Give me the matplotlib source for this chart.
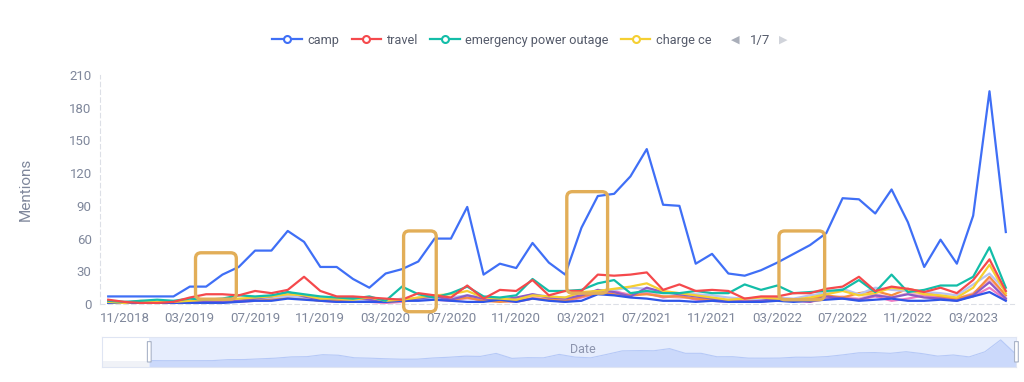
import numpy as np
import pandas as pd
import matplotlib
matplotlib.use("Agg")
import matplotlib.pyplot as plt
from matplotlib.lines import Line2D
from matplotlib.patches import FancyBboxPatch, Rectangle

plt.rcParams["font.family"] = ["Roboto", "DejaVu Sans"]

# monthly mentions, 10/2018 .. 05/2023
months = pd.date_range("2018-10-01", periods=56, freq="MS")

camp = [7, 7, 7, 7, 7, 16, 16, 27, 34, 49, 49, 67, 57, 34, 34, 23, 15, 28, 32, 39,
        60, 60, 89, 27, 37, 33, 56, 38, 27, 70, 99, 101, 117, 142, 91, 90, 37, 46, 28, 26,
        31, 38, 46, 54, 65, 97, 96, 83, 105, 75, 34, 59, 37, 81, 195, 66]
travel = [4, 2, 1, 1, 2, 6, 9, 9, 8, 12, 10, 13, 25, 12, 7, 7, 6, 5, 4, 10,
          8, 6, 17, 5, 13, 12, 22, 8, 12, 12, 27, 26, 27, 29, 13, 18, 12, 13, 12, 5,
          7, 7, 10, 10, 14, 16, 25, 12, 16, 14, 11, 15, 10, 22, 41, 12]
emergency = [3, 2, 3, 4, 3, 5, 4, 5, 8, 7, 8, 11, 9, 7, 6, 5, 7, 3, 16, 9,
             6, 10, 16, 7, 6, 8, 23, 12, 12, 13, 19, 22, 10, 12, 10, 10, 12, 10, 10, 18,
             13, 17, 10, 11, 12, 13, 22, 11, 27, 11, 13, 17, 17, 25, 52, 15]
charge = [2, 1, 3, 2, 2, 3, 4, 4, 5, 6, 7, 9, 8, 5, 5, 4, 6, 3, 4, 6,
          8, 9, 12, 6, 5, 4, 8, 7, 6, 11, 12, 14, 16, 19, 12, 10, 8, 6, 4, 5,
          6, 5, 4, 6, 9, 12, 8, 10, 15, 13, 9, 8, 6, 15, 36, 10]
purple = [1, 1, 1, 1, 1, 2, 2, 3, 3, 5, 7, 11, 7, 4, 5, 6, 4, 3, 4, 5,
          7, 4, 8, 5, 4, 6, 9, 6, 5, 8, 13, 11, 7, 15, 11, 9, 7, 5, 3, 2,
          3, 5, 4, 2, 7, 5, 4, 8, 6, 9, 6, 5, 3, 8, 20, 5]
pink = [1, 1, 1, 1, 2, 2, 1, 2, 2, 3, 4, 6, 5, 3, 2, 3, 2, 1, 2, 5,
        4, 3, 6, 3, 3, 2, 5, 4, 2, 6, 10, 12, 8, 10, 6, 8, 4, 3, 2, 3,
        2, 4, 3, 2, 5, 6, 4, 7, 3, 5, 8, 6, 4, 7, 15, 4]
lavender = [2, 2, 2, 1, 2, 3, 3, 3, 4, 5, 6, 7, 6, 5, 5, 4, 3, 3, 5, 4,
            5, 6, 8, 6, 5, 5, 9, 7, 6, 10, 12, 13, 15, 14, 11, 10, 9, 8, 6, 5,
            4, 6, 5, 8, 10, 14, 9, 15, 13, 12, 11, 10, 8, 18, 28, 12]
orange = [1, 1, 1, 1, 1, 2, 2, 2, 3, 4, 5, 6, 5, 3, 3, 3, 2, 2, 3, 4,
          5, 4, 6, 3, 2, 3, 5, 4, 3, 7, 10, 9, 8, 9, 7, 7, 5, 4, 3, 2,
          3, 3, 3, 5, 8, 6, 10, 12, 8, 14, 11, 7, 5, 9, 25, 8]
darkblue = [1, 1, 1, 1, 1, 1, 1, 1, 2, 3, 3, 5, 4, 3, 2, 2, 2, 2, 3, 3,
            4, 3, 2, 2, 4, 2, 5, 3, 2, 3, 9, 8, 6, 5, 3, 3, 2, 3, 2, 2,
            2, 3, 2, 3, 4, 5, 3, 4, 5, 3, 3, 4, 3, 7, 11, 3]
lightpink = [1, 2, 1, 2, 1, 2, 2, 2, 3, 4, 4, 8, 6, 4, 3, 3, 4, 2, 3, 6,
             5, 3, 5, 4, 3, 4, 7, 5, 4, 8, 10, 11, 9, 12, 7, 6, 5, 4, 3, 4,
             3, 4, 3, 4, 6, 7, 5, 9, 6, 10, 8, 6, 5, 10, 22, 6]

legend_names = ["camp", "travel", "emergency power outage", "charge ce"]

# (start idx, end idx, low value, high value) of the highlight boxes
boxes = [(5.35, 7.85, 4.5, 47), (18.1, 20.1, -7, 67), (28.1, 30.6, 10, 103), (41.1, 43.9, 4, 67)]

x = np.arange(len(months))
grey = "#7f879b"

fig = plt.figure(figsize=(10.24, 3.82), dpi=100)
ax = fig.add_axes([0.0977, 0.204, 0.8925, 0.60])

minor = [(lightpink, "#f6b3c6"), (pink, "#ee7ac0"), (orange, "#f78c3f"),
         (lavender, "#b8c3f3"), (purple, "#8c5bc6"), (darkblue, "#2f55e8")]
for vals, c in minor:
    ax.plot(x, vals, color=c, lw=1.6, zorder=2)

main = [(camp, "#3f6ff6"), (travel, "#f5494c"), (emergency, "#13bda8"), (charge, "#f5cf32")]
for vals, c in main[::-1]:
    ax.plot(x, vals, color=c, lw=1.6, zorder=3)

ax.set_xlim(-0.5, 55.5)
ax.set_ylim(0, 210)
ax.set_yticks(range(0, 211, 30))
ticks = x[1::4]
ax.set_xticks(ticks)
ax.set_xticklabels([months[i].strftime("%m/%Y") for i in ticks])
ax.tick_params(length=0, colors=grey, labelsize=9.5, pad=6)
for s in ["top", "right"]:
    ax.spines[s].set_visible(False)
for s in ["left", "bottom"]:
    ax.spines[s].set_color("#dcdfe6")
    ax.spines[s].set_linestyle((0, (4, 3)))
    ax.spines[s].set_linewidth(0.8)
ax.set_ylabel("Mentions", color=grey, fontsize=11, labelpad=26)

# highlight boxes
asp = (0.8925 * 1024 / 56) / (0.60 * 382 / 210)
for x0, x1, y0, y1 in boxes:
    ax.add_patch(FancyBboxPatch((x0, y0), x1 - x0, y1 - y0,
                                boxstyle="round,pad=0,rounding_size=0.35",
                                mutation_aspect=asp, fill=False,
                                ec="#e2ae58", lw=2.4, zorder=5, clip_on=False))

# legend (first page)
handles = [Line2D([], [], color=c, lw=1.6, marker="o", ms=5, mfc="white", mew=1.5)
           for _, c in main]
fig.legend(handles, legend_names, loc="center left", ncol=4, frameon=False,
           bbox_to_anchor=(0.266, 0.895), fontsize=9.2, handlelength=2.3,
           handletextpad=0.45, columnspacing=0.95, labelcolor="#555b6b",
           borderaxespad=0, borderpad=0)
fig.text(0.718, 0.895, "◀", color="#a9aeb9", fontsize=8, va="center", ha="center",
         family="DejaVu Sans")
fig.text(0.742, 0.895, "1/7", color="#555b6b", fontsize=9.5, va="center", ha="center")
fig.text(0.765, 0.895, "▶", color="#d0d3da", fontsize=8, va="center", ha="center",
         family="DejaVu Sans")

# date slider
sl = fig.add_axes([0.0996, 0.039, 0.893, 0.0785])
total = np.sum([camp, travel, emergency, charge, purple, pink, lavender,
                orange, darkblue, lightpink], axis=0)
pre = 3
top = total.max() * 1.1
sx = np.arange(-pre, len(months))
sl.set_xlim(-pre, len(months) - 1)
sl.set_ylim(0, top)
sl.fill_between(sx, 0, top * 0.2, color="#f0f2f7", lw=0)
sl.add_patch(Rectangle((-0.02, 0), len(months) - 1 + 0.02, top, color="#e6edfd", lw=0))
base = top * 0.18
sl.fill_between(x, 0, base + total * 0.8, color="#cbd9fb", lw=0)
sl.plot(x, base + total * 0.8, color="#b6c9f7", lw=0.8)
sl.set_xticks([])
sl.set_yticks([])
for s in sl.spines.values():
    s.set_color("#dfe5f3")
    s.set_linewidth(0.8)
sl.text(0.5 + pre / 2 / (len(months) - 1 + pre), 0.6, "Date", transform=sl.transAxes,
        ha="center", va="center", color="#8d95ae", fontsize=9)
for hx in [0.0, len(months) - 1]:
    sl.add_patch(FancyBboxPatch((hx - 0.12, top * 0.17), 0.24, top * 0.68,
                                boxstyle="round,pad=0,rounding_size=0.1",
                                fc="white", ec="#aab4c8", lw=0.8, zorder=5,
                                clip_on=False))

fig.savefig("out.png", dpi=100)
